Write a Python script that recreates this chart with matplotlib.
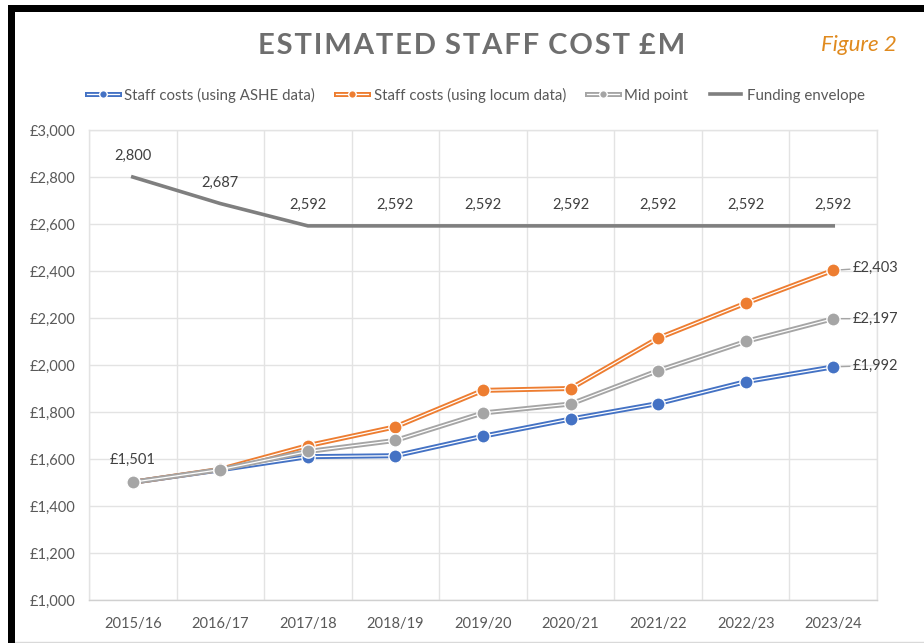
import matplotlib
matplotlib.use("Agg")
import matplotlib.pyplot as plt
import matplotlib.patheffects as pe
from matplotlib.lines import Line2D
from matplotlib.patches import Rectangle
from matplotlib.legend_handler import HandlerTuple

plt.rcParams['font.family'] = ['Lato', 'DejaVu Sans']

years = ['2015/16', '2016/17', '2017/18', '2018/19', '2019/20',
         '2020/21', '2021/22', '2022/23', '2023/24']
ashe = [1501, 1554, 1610, 1614, 1697, 1770, 1836, 1929, 1992]
locum = [1501, 1556, 1657, 1737, 1892, 1900, 2114, 2263, 2403]
mid = [1501, 1555, 1632, 1679, 1796, 1834, 1976, 2100, 2197]
funding = [2800, 2687, 2592, 2592, 2592, 2592, 2592, 2592, 2592]
yticks = [1000, 1200, 1400, 1600, 1800, 2000, 2200, 2400, 2600, 2800, 3000]

C_BLUE = '#4472C4'
C_ORANGE = '#ED7D31'
C_GRAY = '#A5A5A5'
C_FUND = '#7F7F7F'
TXT = '#595959'

W, H = 924, 643
fig = plt.figure(figsize=(W / 100, H / 100), dpi=100)
ax = fig.add_axes([89 / W, 1 - 600 / H, (877 - 89) / W, (600 - 130) / H])

x = list(range(len(years)))

def double_line(vals, color):
    ln, = ax.plot(x, vals, color='white', lw=0.9, zorder=3,
                  path_effects=[pe.Stroke(linewidth=3.6, foreground=color), pe.Normal()],
                  solid_capstyle='butt', solid_joinstyle='round')
    mk, = ax.plot(x, vals, ls='none', marker='o', ms=9.5, mfc=color,
                  mec='white', mew=1.0, zorder=4)
    return ln, mk

h_blue = double_line(ashe, C_BLUE)
h_orange = double_line(locum, C_ORANGE)
h_gray = double_line(mid, C_GRAY)
h_fund, = ax.plot(x, funding, color=C_FUND, lw=2.6, zorder=3, solid_joinstyle='round')

ax.set_xlim(-0.5, len(years) - 0.5)
ax.set_ylim(1000, 3000)
ax.set_yticks(yticks)
ax.set_yticklabels([f'£{v:,}' for v in yticks])
ax.set_xticks(x)
ax.set_xticklabels(years)
ax.set_xticks([i + 0.5 for i in range(-1, len(years))], minor=True)
ax.tick_params(axis='both', which='both', length=0, labelsize=10.5, labelcolor=TXT)
ax.tick_params(axis='y', pad=10)
ax.tick_params(axis='x', pad=12)
ax.grid(True, axis='y', which='major', color='#E3E3E3', lw=1.0)
ax.grid(True, axis='x', which='minor', color='#E3E3E3', lw=1.0)
ax.set_axisbelow(True)
for s in ax.spines.values():
    s.set_color('#E3E3E3')
    s.set_linewidth(1.0)
ax.spines['bottom'].set_color('#D0D0D0')

# funding labels
for i, v in enumerate(funding):
    ax.annotate(f'{v:,}', (i, v), xytext=(0, 10), textcoords='offset points',
                ha='center', va='bottom', fontsize=10.5, color='#404040')

# first label
ax.annotate(f'£{ashe[0]:,}', (0, ashe[0]), xytext=(0, 11), textcoords='offset points',
            ha='center', va='bottom', fontsize=10.5, color='#404040')

# end labels with leader lines
for vals, dy in [(locum, 2), (mid, 0), (ashe, 1)]:
    ax.annotate(f'£{vals[-1]:,}', (x[-1], vals[-1]), xytext=(14, dy),
                textcoords='offset points', ha='left', va='center',
                fontsize=10.5, color='#404040',
                arrowprops=dict(arrowstyle='-', color='#A5A5A5', lw=1.0,
                                shrinkA=0, shrinkB=1))

# legend: overlay line and small marker
def leg_handle(color):
    ln = Line2D([], [], color='white', lw=0.9,
                path_effects=[pe.Stroke(linewidth=3.6, foreground=color), pe.Normal()])
    mk = Line2D([], [], ls='none', marker='o', ms=5.5, mfc=color, mec='white', mew=1.0)
    return (ln, mk)

handles = [leg_handle(C_BLUE), leg_handle(C_ORANGE), leg_handle(C_GRAY),
           Line2D([], [], color=C_FUND, lw=2.6)]
labels = ['Staff costs (using ASHE data)', 'Staff costs (using locum data)',
          'Mid point', 'Funding envelope']
leg = fig.legend(handles, labels, loc='center', bbox_to_anchor=(476 / W, 1 - 95 / H),
                 ncol=4, frameon=False, fontsize=10.8, labelcolor=TXT,
                 handler_map={tuple: HandlerTuple(ndivide=1, pad=0)},
                 handlelength=2.1, handletextpad=0.4, columnspacing=1.4)

# title with letter spacing
words = ['ESTIMATED', 'STAFF', 'COST', '£M']
title = ' \u200a'.join('\u200a'.join(w) for w in words)
fig.text(472 / W, 1 - 46 / H, title,
         ha='center', va='center', fontsize=21, fontweight='bold', color='#6E6E6E')
fig.text(859 / W, 1 - 45 / H, 'Figure 2', ha='center', va='center',
         fontsize=16, style='italic', color='#E08A1E')

# frame
fig.add_artist(Rectangle((8 / W, 0), 7 / W, 1 - 5 / H, transform=fig.transFigure,
                         color='black', lw=0, zorder=10))
fig.add_artist(Rectangle((8 / W, 1 - 12 / H), 1 - 8 / W, 7 / H, transform=fig.transFigure,
                         color='black', lw=0, zorder=10))
fig.add_artist(Line2D([15 / W, 1], [1 - 641.5 / H] * 2, transform=fig.transFigure,
                      color='#D9D9D9', lw=1))

fig.savefig('out.png', dpi=100, facecolor='white')
